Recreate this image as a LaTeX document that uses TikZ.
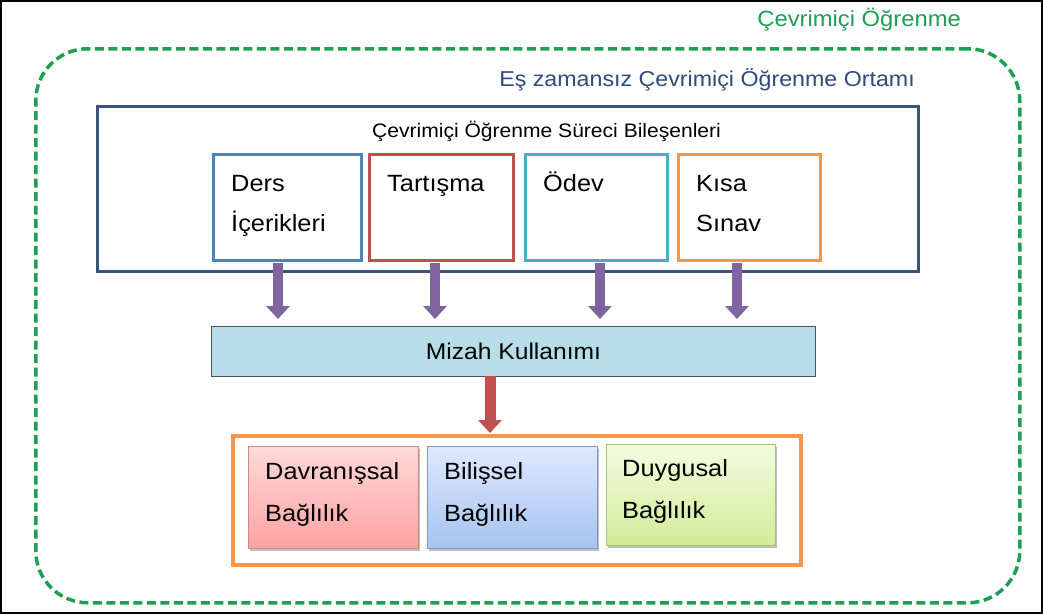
\documentclass[tikz,border=0pt]{standalone}
\usepackage{fontspec}
\setmainfont{Liberation Sans}[FakeStretch=1.08]
\usetikzlibrary{arrows.meta,shadows}

\definecolor{onlgreen}{HTML}{1F9E55}
\definecolor{envblue}{HTML}{2F4C7B}
\definecolor{frameblue}{HTML}{3B5479}
\definecolor{cblue}{HTML}{4F81BD}
\definecolor{cred}{HTML}{C0504D}
\definecolor{cteal}{HTML}{4BACC6}
\definecolor{corange}{HTML}{F79646}
\definecolor{cpurple}{HTML}{8064A2}
\definecolor{humfill}{HTML}{B7DEE8}
\definecolor{humline}{HTML}{44546A}
\definecolor{pinktop}{HTML}{FFD9D9}
\definecolor{pinkbot}{HTML}{FFA2A2}
\definecolor{pinkline}{HTML}{C98A88}
\definecolor{bluetop}{HTML}{DFE9FE}
\definecolor{bluebot}{HTML}{A6C3F1}
\definecolor{blueline}{HTML}{7F97BF}
\definecolor{greentop}{HTML}{F3FCE0}
\definecolor{greenbot}{HTML}{D1EC98}
\definecolor{greenline}{HTML}{A9C46F}

\begin{document}
\begin{tikzpicture}[x=1pt,y=-1pt,
  box/.style={draw, line width=3pt, fill=white, inner sep=0pt, anchor=north west},
  engbox/.style={draw, line width=0.8pt, inner sep=0pt, anchor=north west,
    drop shadow={shadow xshift=2pt, shadow yshift=-3pt, opacity=0.35, fill=black!70}},
  lbl/.style={inner sep=0pt, anchor=base west, font=\fontsize{23.5}{28}\selectfont},
  parrow/.style={draw=cpurple, line width=10pt,
    -{Triangle[width=23pt,length=13pt]}},
  rarrow/.style={draw=cred, line width=11pt,
    -{Triangle[width=23pt,length=13pt]}}
]
\useasboundingbox (0,0) rectangle (1043,614);
\fill[white] (0,0) rectangle (1043,614);
\draw[black, line width=1.6pt] (1,1) rectangle (1042,613);

% outer online-learning region
\node[draw=onlgreen, line width=3.5pt, dash pattern=on 9pt off 4.5pt,
  rounded corners=52pt, minimum width=984pt, minimum height=554pt,
  inner sep=0pt, anchor=north west] (online) at (34,47) {};
\node[inner sep=0pt, anchor=base east, text=onlgreen,
  font=\fontsize{22}{26}\selectfont] (onlt) at (961,26) {Çevrimiçi Öğrenme};
\node[inner sep=0pt, anchor=base east, text=envblue,
  font=\fontsize{21.5}{26}\selectfont] (envt) at (915,86) {Eş zamansız Çevrimiçi Öğrenme Ortamı};

% process components
\node[box, draw=frameblue, minimum width=821pt, minimum height=165pt] (comp) at (96,105) {};
\node[inner sep=0pt, anchor=base west, font=\fontsize{19.5}{23}\selectfont]
  (compt) at (372,137) {Çevrimiçi Öğrenme Süreci Bileşenleri};

\node[box, draw=cblue,   minimum width=148pt, minimum height=106pt] (b1) at (212,153) {};
\node[box, draw=cred,    minimum width=144pt, minimum height=106pt] (b2) at (368,153) {};
\node[box, draw=cteal,   minimum width=142pt, minimum height=106pt] (b3) at (524,153) {};
\node[box, draw=corange, minimum width=142pt, minimum height=106pt] (b4) at (677,153) {};

\node[lbl] (b1a) at (231,191) {Ders};
\node[lbl] (b1b) at (231,231) {İçerikleri};
\node[lbl] (b2a) at (387,191) {Tartışma};
\node[lbl] (b3a) at (543,191) {Ödev};
\node[lbl] (b4a) at (696,191) {Kısa};
\node[lbl] (b4b) at (696,231) {Sınav};

% humour layer
\node[draw=humline, line width=1pt, fill=humfill, inner sep=0pt, anchor=north west,
  minimum width=604pt, minimum height=50pt] (mz) at (211,326) {};
\node[inner sep=0pt, font=\fontsize{22.8}{27}\selectfont] (mzt) at (mz.center) {Mizah Kullanımı};

\coordinate (p1) at (278,263);
\coordinate (p2) at (435,263);
\coordinate (p3) at (600,263);
\coordinate (p4) at (737,263);
\foreach \p in {p1,p2,p3,p4}
  \draw[parrow, shorten >=7pt] (\p) -- (\p |- mz.north);

% engagement types
\node[box, draw=corange, line width=3.5pt, minimum width=568pt, minimum height=129pt] (ob) at (231,434) {};

\coordinate (r1) at (490,376);
\draw[rarrow, shorten >=1pt] (r1) -- (r1 |- ob.north);

\node[engbox, draw=pinkline, top color=pinktop, bottom color=pinkbot,
  minimum width=170pt, minimum height=102pt] (e1) at (248,446) {};
\node[engbox, draw=blueline, top color=bluetop, bottom color=bluebot,
  minimum width=170pt, minimum height=102pt] (e2) at (427,446) {};
\node[engbox, draw=greenline, top color=greentop, bottom color=greenbot,
  minimum width=169pt, minimum height=101pt] (e3) at (606,444) {};

\node[lbl] (e1a) at (265,479) {Davranışsal};
\node[lbl] (e1b) at (265,521) {Bağlılık};
\node[lbl] (e2a) at (444,479) {Bilişsel};
\node[lbl] (e2b) at (444,521) {Bağlılık};
\node[lbl] (e3a) at (622,476) {Duygusal};
\node[lbl] (e3b) at (622,518) {Bağlılık};
\end{tikzpicture}
\end{document}
